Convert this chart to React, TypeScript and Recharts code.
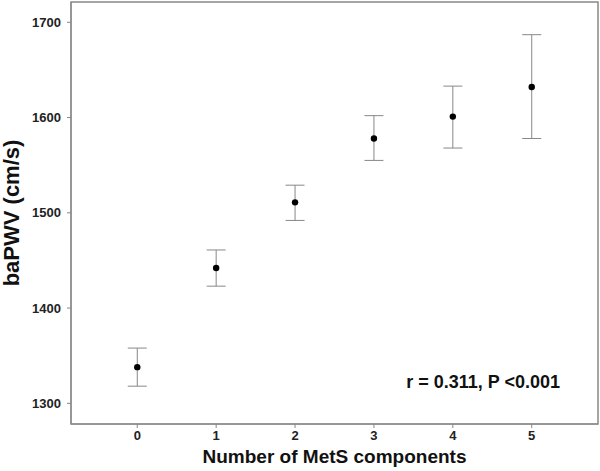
import React from 'react';
import { ScatterChart, Scatter, XAxis, YAxis, ErrorBar, ReferenceArea } from 'recharts';

// number of MetS components vs mean baPWV (error bars = 95% CI)
const components = [0, 1, 2, 3, 4, 5];
const meanPWV = [1338, 1442, 1511, 1578, 1601, 1632];
const lowerPWV = [1318, 1423, 1492, 1555, 1568, 1578];
const upperPWV = [1358, 1461, 1529, 1602, 1633, 1687];
const yTicks = [1300, 1400, 1500, 1600, 1700];
const xTicks = [0, 1, 2, 3, 4, 5];

const X_DOMAIN = [-0.84, 5.84];
const Y_DOMAIN = [1278.3, 1721.3];

const data = components.map((c, i) => ({
  x: c,
  y: meanPWV[i],
  err: [meanPWV[i] - lowerPWV[i], upperPWV[i] - meanPWV[i]],
}));

const FONT = '"Liberation Sans", Arial, sans-serif';
const GRAY = '#888';

const Dot = (p: any) => <circle cx={p.cx} cy={p.cy} r={3.2} fill="#000" />;

const XTitle = ({ viewBox }: any) => {
  const { x, y, width } = viewBox;
  return (
    <g fontFamily={FONT} fontWeight="bold" fill="#111">
      <text x={x + width / 2} y={y + 39} textAnchor="middle" fontSize={19}>
        Number of MetS components
      </text>
      <text x={x + width * 0.782} y={y - 36} textAnchor="middle" fontSize={18}>
        r = 0.311, P &lt;0.001
      </text>
    </g>
  );
};

const YTitle = ({ viewBox }: any) => {
  const { y, height } = viewBox;
  const cx = 19;
  const cy = y + height / 2;
  return (
    <text
      x={cx}
      y={cy}
      transform={`rotate(-90, ${cx}, ${cy})`}
      textAnchor="middle"
      fontFamily={FONT}
      fontWeight="bold"
      fontSize={22}
      fill="#111"
    >
      baPWV (cm/s)
    </text>
  );
};

export default function App() {
  const tickStyle = { fontFamily: FONT, fontSize: 13, fontWeight: 'bold', fill: '#222' };
  return (
    <div style={{ position: 'absolute', left: 0, top: 0, background: '#fff' }}>
      <ScatterChart width={600} height={471} margin={{ top: 2, right: 2, bottom: 0, left: 0 }}>
        <XAxis
          dataKey="x"
          type="number"
          domain={X_DOMAIN}
          ticks={xTicks}
          allowDataOverflow
          height={47}
          stroke={GRAY}
          tickSize={4}
          tickMargin={3}
          tick={tickStyle}
          label={<XTitle />}
        />
        <YAxis
          dataKey="y"
          type="number"
          domain={Y_DOMAIN}
          ticks={yTicks}
          allowDataOverflow
          width={71}
          stroke={GRAY}
          tickSize={4}
          tickMargin={6}
          tick={tickStyle}
          label={<YTitle />}
        />
        <ReferenceArea
          x1={X_DOMAIN[0]}
          x2={X_DOMAIN[1]}
          y1={Y_DOMAIN[0]}
          y2={Y_DOMAIN[1]}
          fill="none"
          stroke={GRAY}
          strokeWidth={1.5}
          ifOverflow="visible"
        />
        <Scatter data={data} shape={Dot} isAnimationActive={false}>
          <ErrorBar dataKey="err" direction="y" width={9.5} stroke={GRAY} strokeWidth={1} isAnimationActive={false} />
        </Scatter>
      </ScatterChart>
    </div>
  );
}
